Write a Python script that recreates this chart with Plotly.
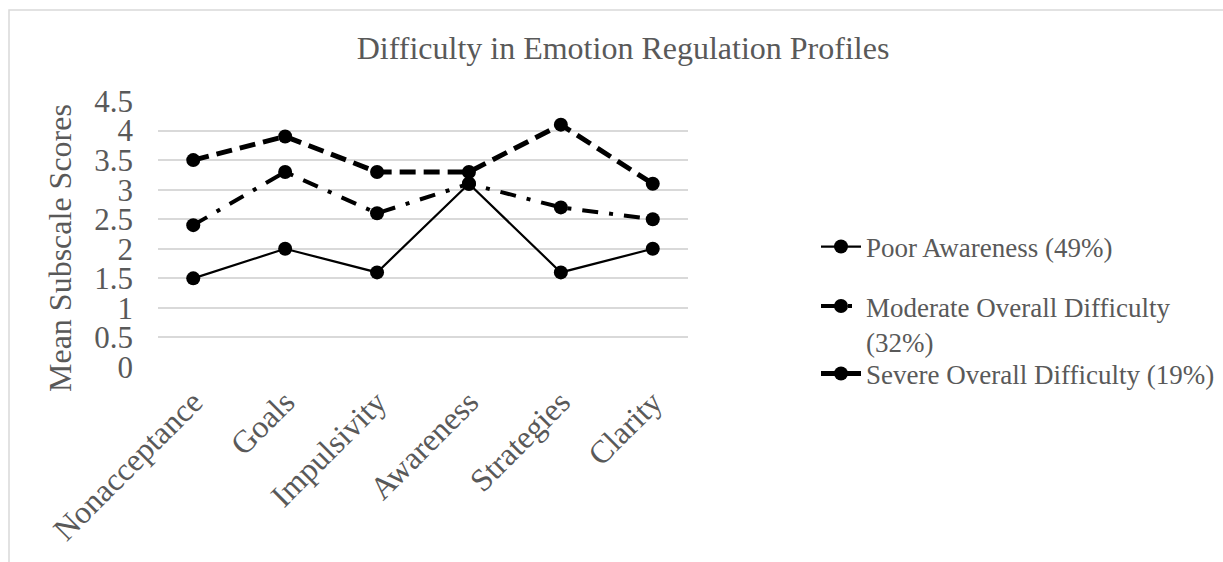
import plotly.graph_objects as go

# Subscale names and mean scores per latent profile
categories = ["Nonacceptance", "Goals", "Impulsivity", "Awareness", "Strategies", "Clarity"]
poor_awareness = [1.5, 2.0, 1.6, 3.1, 1.6, 2.0]
moderate_difficulty = [2.4, 3.3, 2.6, 3.1, 2.7, 2.5]
severe_difficulty = [3.5, 3.9, 3.3, 3.3, 4.1, 3.1]
y_ticks = [0, 0.5, 1, 1.5, 2, 2.5, 3, 3.5, 4, 4.5]
y_tick_text = ["0", "0.5", "1", "1.5", "2", "2.5", "3", "3.5", "4", "4.5"]

FONT = "Liberation Serif, Times New Roman, serif"
GRAY = "#595959"

fig = go.Figure()
fig.add_trace(go.Scatter(
    x=categories, y=poor_awareness, name="Poor Awareness (49%)",
    mode="lines+markers",
    line=dict(color="black", width=2.2),
    marker=dict(symbol="circle", size=14, color="black"),
    legend="legend",
))
fig.add_trace(go.Scatter(
    x=categories, y=moderate_difficulty, name="Moderate Overall Difficulty<br>(32%)",
    mode="lines+markers",
    line=dict(color="black", width=4, dash="16px,11px,4px,11px"),
    marker=dict(symbol="circle", size=14, color="black"),
    legend="legend2",
))
fig.add_trace(go.Scatter(
    x=categories, y=severe_difficulty, name="Severe Overall Difficulty (19%)",
    mode="lines+markers",
    line=dict(color="black", width=5, dash="16px,8px"),
    marker=dict(symbol="circle", size=14, color="black"),
    legend="legend3",
))

W, H = 1223, 562
L, R, T, B = 158, 535, 101, 195
pw, ph = W - L - R, H - T - B

def px_x(x):
    return (x - L) / pw

def px_y(y):
    return (H - B - y) / ph

legend_font = dict(family=FONT, size=27, color=GRAY)
LEGEND_X = 816

fig.update_layout(
    width=W, height=H,
    margin=dict(l=L, r=R, t=T, b=B, autoexpand=False),
    paper_bgcolor="white", plot_bgcolor="white",
    font=dict(family=FONT, color=GRAY),
    title=dict(
        text="Difficulty in Emotion Regulation Profiles",
        font=dict(family=FONT, size=32, color=GRAY),
        x=623 / W, xanchor="center", xref="container",
        y=1 - 48 / H, yanchor="middle", yref="container",
    ),
    xaxis=dict(
        type="category", tickangle=-45, showgrid=False, zeroline=False,
        showline=False, ticks="", ticklabelstandoff=9, automargin=False,
        tickfont=dict(family=FONT, size=32, color=GRAY),
    ),
    yaxis=dict(
        range=[0, 4.5], tickvals=y_ticks, ticktext=y_tick_text,
        showgrid=True, gridcolor="#d9d9d9", gridwidth=1.5,
        zeroline=False, showline=False, ticks="", automargin=False,
        ticklabelstandoff=24,
        tickfont=dict(family=FONT, size=31, color=GRAY),
    ),
    legend=dict(
        x=px_x(LEGEND_X), y=px_y(247), xanchor="left", yanchor="middle",
        font=legend_font, bgcolor="rgba(0,0,0,0)", itemwidth=40,
    ),
    legend2=dict(
        x=px_x(LEGEND_X), y=px_y(282), xanchor="left", yanchor="top",
        font=legend_font, bgcolor="rgba(0,0,0,0)", valign="top", itemwidth=40,
    ),
    legend3=dict(
        x=px_x(LEGEND_X), y=px_y(374), xanchor="left", yanchor="middle",
        font=legend_font, bgcolor="rgba(0,0,0,0)", itemwidth=40,
    ),
    showlegend=True,
)

# Vertical axis title
fig.add_annotation(
    text="Mean Subscale Scores", textangle=-90, showarrow=False,
    xref="paper", yref="paper", x=px_x(60), y=px_y(248),
    xanchor="center", yanchor="middle",
    font=dict(family=FONT, size=32, color=GRAY),
)

# Light chart-area border
fig.add_shape(
    type="rect", xref="paper", yref="paper",
    x0=px_x(9), x1=px_x(W + 20), y0=px_y(H + 20), y1=px_y(10),
    line=dict(color="#d9d9d9", width=1.5), fillcolor="rgba(0,0,0,0)", layer="below",
)

fig.write_html("out.html")
